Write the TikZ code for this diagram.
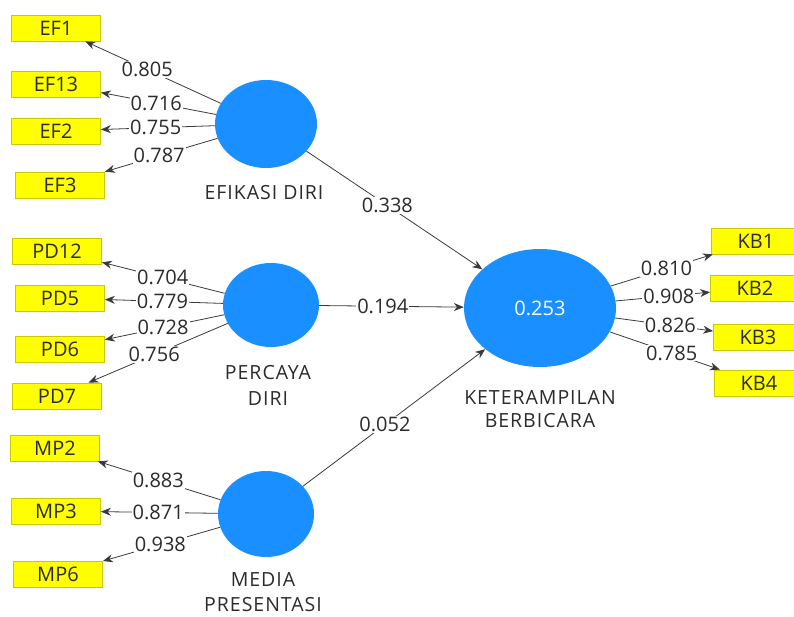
\documentclass[tikz,border=0pt]{standalone}
\usepackage{fontspec}
\setmainfont{Open Sans}
\newfontfamily\namefont[LetterSpace=5]{Open Sans}
\usetikzlibrary{shapes.geometric,arrows.meta}
\definecolor{latblue}{HTML}{1A8FFF}
\definecolor{boxyel}{HTML}{FFFF00}
\definecolor{boxedge}{HTML}{C9C900}
\definecolor{txt}{HTML}{2B2B2B}
\definecolor{ln}{HTML}{3A3A3A}
\tikzset{
  ind/.style={draw=boxedge, line width=0.8pt, fill=boxyel, minimum width=89pt, minimum height=26pt, inner sep=0pt, text=txt, font=\fontsize{20}{22}\selectfont},
  lat/.style={ellipse, fill=latblue, draw=none, inner sep=0pt},
  lbl/.style={fill=white, inner sep=1pt, text=txt, font=\fontsize{20}{22}\selectfont},
  latname/.style={text=txt, align=center, font=\namefont\fontsize{19.5}{22}\selectfont},
  arr/.style={draw=ln, line width=0.8pt, -{Stealth[length=10pt,width=8pt]}}
}
\begin{document}
\begin{tikzpicture}[x=1pt,y=-1pt]
\useasboundingbox (0,0) rectangle (794,617);
% latent variables
\node[lat, minimum width=102pt, minimum height=88pt] (ef) at (266,124) {};
\node[lat, minimum width=96pt, minimum height=84pt] (pd) at (271,305) {};
\node[lat, minimum width=96pt, minimum height=86pt] (mp) at (266,514) {};
\node[lat, minimum width=152pt, minimum height=118pt, text=white, font=\fontsize{20}{22}\selectfont] (kb) at (540,308) {0.253};
% names
\node[latname] (efn) at (264,193) {EFIKASI DIRI};
\node[latname, font=\namefont\fontsize{19.5}{26}\selectfont] (pdn) at (268,385) {PERCAYA\\DIRI};
\node[latname, font=\namefont\fontsize{19.5}{25}\selectfont] (mpn) at (263,592) {MEDIA\\PRESENTASI};
\node[latname, font=\namefont\fontsize{19.5}{23}\selectfont] (kbn) at (540,409) {KETERAMPILAN\\BERBICARA};
% indicators
\node[ind] (EF1) at (56,28) {EF1};
\node[ind] (EF13) at (56,84) {EF13};
\node[ind] (EF2) at (56,131) {EF2};
\node[ind] (EF3) at (60,185) {EF3};
\node[ind] (PD12) at (57,251) {PD12};
\node[ind] (PD5) at (60,298) {PD5};
\node[ind] (PD6) at (60,349) {PD6};
\node[ind] (PD7) at (57,396) {PD7};
\node[ind] (MP2) at (55,448) {MP2};
\node[ind] (MP3) at (56,511) {MP3};
\node[ind] (MP6) at (58,574) {MP6};
\node[ind] (KB1) at (756,241) {KB1};
\node[ind] (KB2) at (755,288) {KB2};
\node[ind] (KB3) at (758,337) {KB3};
\node[ind] (KB4) at (759,383) {KB4};
% outer loadings
\draw[arr] (ef) -- node[lbl,pos=.543]{0.805} (EF1);
\draw[arr] (ef) -- node[lbl,pos=.519]{0.716} (EF13);
\draw[arr] (ef) -- node[lbl,pos=.519]{0.755} (EF2);
\draw[arr] (ef) -- node[lbl,pos=.519]{0.787} (EF3);
\draw[arr] (pd) -- node[lbl,pos=.505]{0.704} (PD12);
\draw[arr] (pd) -- node[lbl,pos=.512]{0.779} (PD5);
\draw[arr] (pd) -- node[lbl,pos=.512]{0.728} (PD6);
\draw[arr] (pd) -- node[lbl,pos=.528]{0.756} (PD7);
\draw[arr] (mp) -- node[lbl,pos=.507]{0.883} (MP2);
\draw[arr] (mp) -- node[lbl,pos=.51]{0.871} (MP3);
\draw[arr] (mp) -- node[lbl,pos=.51]{0.938} (MP6);
\draw[arr] (kb) -- node[lbl,pos=.546]{0.810} (KB1);
\draw[arr] (kb) -- node[lbl,pos=.563]{0.908} (KB2);
\draw[arr] (kb) -- node[lbl,pos=.564]{0.826} (KB3);
\draw[arr] (kb) -- node[lbl,pos=.562]{0.785} (KB4);
% structural paths
\draw[arr] (ef) -- node[lbl,pos=.46]{0.338} (kb);
\draw[arr] (pd) -- node[lbl,pos=.44]{0.194} (kb);
\draw[arr] (mp) -- node[lbl,pos=.45]{0.052} (kb);
\end{tikzpicture}
\end{document}
